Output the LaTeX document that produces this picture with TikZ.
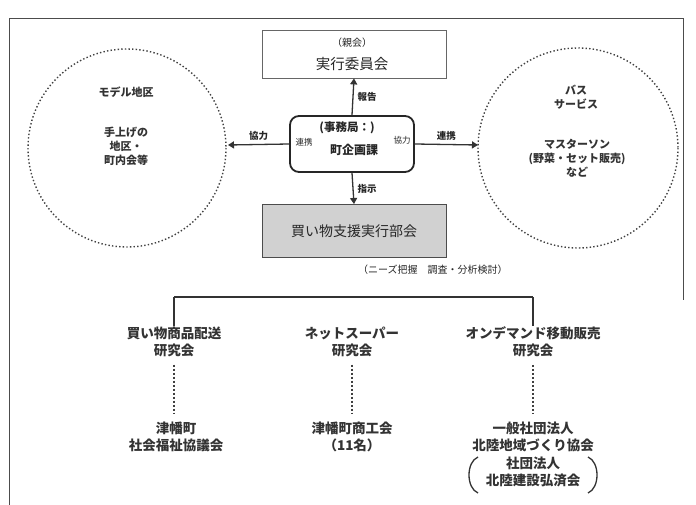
\documentclass[tikz,border=0pt]{standalone}
\usepackage{fontspec}
\setmainfont{Noto Sans CJK JP}
\usetikzlibrary{arrows.meta,calc}
\begin{document}
\begin{tikzpicture}[x=1pt,y=-1pt,
  every node/.style={inner sep=0pt,text=black!85},
  small/.style={font=\fontsize{8.5}{9}\selectfont},
  albl/.style={font=\bfseries\fontsize{9.5}{10}\selectfont},
  col/.style={font=\bfseries\fontsize{13.5}{17}\selectfont,align=center,text=black!80},
  circ/.style={font=\bfseries\fontsize{11}{14}\selectfont,align=center,text=black!80},
  conn/.style={line width=1.3pt,black!80},
  tip/.style={-{Triangle[length=6pt,width=7pt]}},
  dotc/.style={line width=1.4pt,black!75,dash pattern=on 1.4pt off 2.2pt},
  dotl/.style={line width=1.6pt,black!75,dash pattern=on 2pt off 2pt,shorten <=8pt,shorten >=8pt},
  paren/.style={line width=1.3pt,black!80}]
\useasboundingbox (0,0) rectangle (696,505);
\draw[black!70,line width=0.8pt] (9,505) -- (9,18) -- (683,18) -- (683,300);
% top box
\node[draw=black!60,line width=0.8pt,minimum width=184pt,minimum height=48pt,fill=white] (top) at (354,54) {};
\node[font=\fontsize{10}{11}\selectfont] at (352,43) {（親会）};
\node[font=\fontsize{14.5}{16}\selectfont] at (352,64) {実行委員会};
% center box
\node[draw=black!85,line width=1.8pt,rounded corners=9pt,minimum width=124pt,minimum height=56pt] (ctr) at (352,144) {};
\node[font=\bfseries\fontsize{11.5}{12}\selectfont] at (347,128) {(事務局：)};
\node[font=\bfseries\fontsize{12}{13}\selectfont] at (354,150) {町企画課};
\node[small] at (304,142) {連携};
\node[small] at (402,140) {協力};
% gray box
\node[draw=black!70,line width=0.9pt,fill=black!18,minimum width=184pt,minimum height=53pt,font=\fontsize{14}{16}\selectfont] (sub) at (354,231) {買い物支援実行部会};
\node[font=\fontsize{10}{11}\selectfont,anchor=west] (note) at (358,270) {（ニーズ把握　調査・分析検討）};
% circles
\draw[dotc] (127,148) circle (99);
\draw[dotc] (578,148) circle (100);
\coordinate (lc) at (228,145);
\coordinate (rc) at (478,145);
\node[circ] at (126,92) {モデル地区};
\node[circ] at (126,146) {手上げの\\地区・\\町内会等};
\node[circ] at (576,97) {バス\\サービス};
\node[circ] at (577,158) {マスターソン\\(野菜・セット販売)\\など};
% arrows
\draw[conn,tip] (ctr.north) -- (top.south) node[pos=0.5,right=4pt,albl] {報告};
\draw[conn,tip] (ctr.south) -- (sub.north) node[pos=0.5,right=4pt,albl] {指示};
\draw[conn,tip] (ctr.west) -- (lc) node[pos=0.5,above=3pt,albl] {協力};
\draw[conn,tip] (ctr.east) -- (rc) node[pos=0.5,above=3pt,albl] {連携};
% tree
\coordinate (b1) at (174,297);
\coordinate (b3) at (533,297);
\draw[conn] (b1) -- (b3);
\node[col] (c1) at (174,341.5) {買い物商品配送\\研究会};
\node[col] (c2) at (352,341.5) {ネットスーパー\\研究会};
\node[col] (c3) at (533,341.5) {オンデマンド移動販売\\研究会};
\draw[conn] (b1) -- (c1.north);
\draw[conn] (b3) -- (c3.north);
\node[col] (d1) at (176,437) {津幡町\\社会福祉協議会};
\node[col] (d2) at (352,437) {津幡町商工会\\（11名）};
\node[col] (d3) at (533,437) {一般社団法人\\北陸地域づくり協会};
\node[col] (d4) at (533,471.5) {社団法人\\北陸建設弘済会};
\draw[paren] (478,457) .. controls (466,462) and (466,488) .. (478,493);
\draw[paren] (588,457) .. controls (600,462) and (600,488) .. (588,493);
\draw[dotl] (c1.south) -- (c1.south |- d1.north);
\draw[dotl] (c2.south) -- (d2.north);
\draw[dotl] (c3.south) -- (d3.north);
\end{tikzpicture}
\end{document}
